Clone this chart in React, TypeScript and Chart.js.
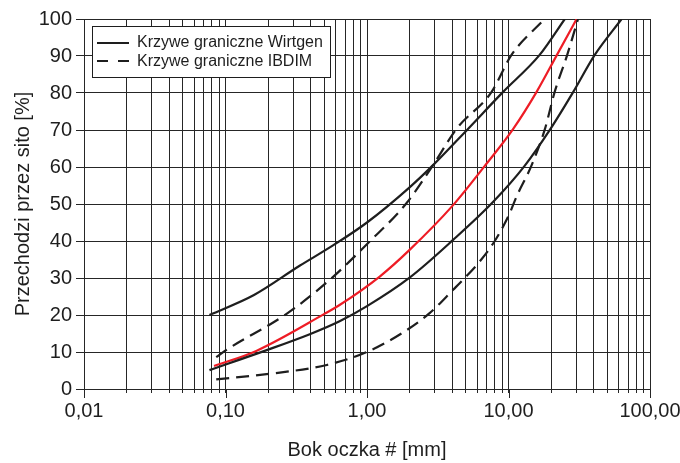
import React, { useEffect, useRef } from 'react';
import { Chart, registerables } from 'chart.js';

Chart.register(...registerables);

// Axis ticks
const xTickValues = [0.01, 0.1, 1, 10, 100];
const xTickLabels = ['0,01', '0,10', '1,00', '10,00', '100,00'];
const yTickValues = [0, 10, 20, 30, 40, 50, 60, 70, 80, 90, 100];

// Legend labels
const legendLabels = ['Krzywe graniczne Wirtgen', 'Krzywe graniczne IBDIM'];

// Wirtgen limit curves (solid)
const wirtgenUpperX = [0.077, 0.159, 0.334, 0.575, 1.0, 2.0, 2.93, 5.17, 9.16, 16.6, 25];
const wirtgenUpperY = [20, 25.4, 33.3, 38.8, 45, 54.5, 60.5, 70.3, 80.3, 90.3, 100];
const wirtgenLowerX = [0.077, 0.189, 0.394, 0.64, 1.0, 2.0, 4.06, 7.8, 13.0, 19.8, 28.7, 40.7, 63];
const wirtgenLowerY = [5.1, 10.3, 14.8, 18.3, 22.4, 30.1, 40.3, 50.6, 60.3, 70.3, 80.3, 90.3, 100];

// IBDIM limit curves (dashed)
const ibdimUpperX = [0.086, 0.099, 0.27, 0.545, 1.04, 1.9, 2.93, 4.29, 7.6, 10.5, 18];
const ibdimUpperY = [8.6, 10.3, 20.3, 29.5, 39.8, 50.2, 60.5, 70.3, 80.3, 90.3, 100];
const ibdimLowerX = [0.086, 0.195, 0.52, 1.0, 1.8, 2.77, 4.06, 5.05, 6.27, 8.0, 9.16, 10.2, 11.4, 14.5, 18.1, 21.2, 26, 31];
const ibdimLowerY = [2.6, 4, 6.5, 10, 15.3, 20.5, 26.8, 30.5, 34.5, 40, 43.9, 47.5, 52, 60.3, 70.3, 80.3, 90.3, 100];

// Mix curve (red)
const mixX = [0.083, 0.165, 0.5, 0.64, 1.23, 2.0, 4.06, 6.8, 10.8, 15.8, 22, 30.3];
const mixY = [6.2, 10.3, 20.3, 22.7, 30.4, 37.6, 49.7, 60.3, 70.3, 80.3, 90.3, 100];

const FONT = "'Liberation Sans', Arial, Helvetica, sans-serif";
const INK = '#1e1e1e';
const GRID = '#262626';
const RED = '#ee1c25';
const DASH = [13, 7];

function pts(xs: number[], ys: number[]) {
  return xs.map((x, i) => ({ x, y: ys[i] }));
}

const decorPlugin = {
  id: 'decor',
  afterDraw(chart: any) {
    const { ctx, chartArea } = chart;
    const xs = chart.scales.x;
    ctx.save();
    // longer ticks at decades
    ctx.strokeStyle = GRID;
    ctx.lineWidth = 1;
    xTickValues.forEach((v) => {
      const px = Math.round(xs.getPixelForValue(v)) + 0.5;
      ctx.beginPath();
      ctx.moveTo(px, chartArea.bottom);
      ctx.lineTo(px, chartArea.bottom + 9);
      ctx.stroke();
    });
    // legend box
    const bx = 92.5, by = 26.5, bw = 238, bh = 51;
    ctx.fillStyle = '#ffffff';
    ctx.fillRect(bx, by, bw, bh);
    ctx.strokeStyle = INK;
    ctx.lineWidth = 1;
    ctx.strokeRect(bx, by, bw, bh);
    ctx.lineWidth = 2;
    ctx.strokeStyle = INK;
    ctx.setLineDash([]);
    ctx.beginPath();
    ctx.moveTo(97, 43);
    ctx.lineTo(129, 43);
    ctx.stroke();
    ctx.setLineDash([11, 10]);
    ctx.beginPath();
    ctx.moveTo(97, 61);
    ctx.lineTo(129, 61);
    ctx.stroke();
    ctx.setLineDash([]);
    ctx.fillStyle = INK;
    ctx.font = `16px ${FONT}`;
    ctx.textBaseline = 'middle';
    ctx.textAlign = 'left';
    ctx.fillText(legendLabels[0], 137, 43);
    ctx.fillText(legendLabels[1], 137, 62);
    ctx.restore();
  },
};

export default function App() {
  const ref = useRef<HTMLCanvasElement | null>(null);

  useEffect(() => {
    if (!ref.current) return;
    const lineBase = {
      showLine: true,
      pointRadius: 0,
      borderWidth: 2.2,
      fill: false,
      cubicInterpolationMode: 'monotone' as const,
    };
    const chart = new Chart(ref.current, {
      type: 'scatter',
      data: {
        datasets: [
          { ...lineBase, label: 'Wirtgen górna', data: pts(wirtgenUpperX, wirtgenUpperY), borderColor: INK },
          { ...lineBase, label: 'Wirtgen dolna', data: pts(wirtgenLowerX, wirtgenLowerY), borderColor: INK },
          { ...lineBase, label: 'IBDIM górna', data: pts(ibdimUpperX, ibdimUpperY), borderColor: INK, borderDash: DASH },
          { ...lineBase, label: 'IBDIM dolna', data: pts(ibdimLowerX, ibdimLowerY), borderColor: INK, borderDash: DASH },
          { ...lineBase, label: 'Mieszanka', data: pts(mixX, mixY), borderColor: RED },
        ],
      },
      options: {
        responsive: false,
        animation: false,
        layout: { padding: { top: 19, right: 30, left: 0, bottom: 0 } },
        plugins: {
          legend: { display: false },
          tooltip: { enabled: false },
        },
        scales: {
          x: {
            type: 'logarithmic',
            min: 0.01,
            max: 100,
            afterBuildTicks: (scale: any) => {
              const t: any[] = [];
              for (let i = 0; i < xTickValues.length - 1; i++) {
                for (let m = 1; m <= 9; m++) t.push({ value: m * xTickValues[i] });
              }
              t.push({ value: xTickValues[xTickValues.length - 1] });
              scale.ticks = t;
            },
            afterFit: (scale: any) => {
              scale.height = 74;
              scale.paddingLeft = 0;
              scale.paddingRight = 0;
            },
            ticks: {
              autoSkip: false,
              maxRotation: 0,
              minRotation: 0,
              padding: 6,
              color: INK,
              font: { family: FONT, size: 20 },
              callback: (value: any) => {
                const v = Number(value);
                const idx = xTickValues.findIndex((tv) => Math.abs(tv - v) / tv < 1e-6);
                return idx >= 0 ? xTickLabels[idx] : '';
              },
            },
            grid: { color: GRID, lineWidth: 1, tickLength: 4, tickColor: GRID },
            border: { color: GRID, width: 1 },
            title: {
              display: true,
              text: 'Bok oczka # [mm]',
              color: INK,
              font: { family: FONT, size: 20 },
              padding: { top: 0, bottom: 1 },
            },
          },
          y: {
            type: 'linear',
            min: 0,
            max: 100,
            afterBuildTicks: (scale: any) => {
              scale.ticks = yTickValues.map((v) => ({ value: v }));
            },
            afterFit: (scale: any) => {
              scale.width = 84;
            },
            ticks: {
              padding: 4,
              color: INK,
              font: { family: FONT, size: 20 },
            },
            grid: { color: GRID, lineWidth: 1, tickLength: 8, tickColor: GRID },
            border: { color: GRID, width: 1 },
            title: {
              display: true,
              text: 'Przechodzi przez sito [%]',
              color: INK,
              font: { family: FONT, size: 20 },
              padding: { top: 11, bottom: 0 },
            },
          },
        },
      },
      plugins: [decorPlugin],
    });
    return () => chart.destroy();
  }, []);

  return (
    <div style={{ position: 'absolute', left: 0, top: 0, width: 680, height: 463, background: '#fff' }}>
      <canvas ref={ref} width={680} height={463} style={{ display: 'block' }} />
    </div>
  );
}
